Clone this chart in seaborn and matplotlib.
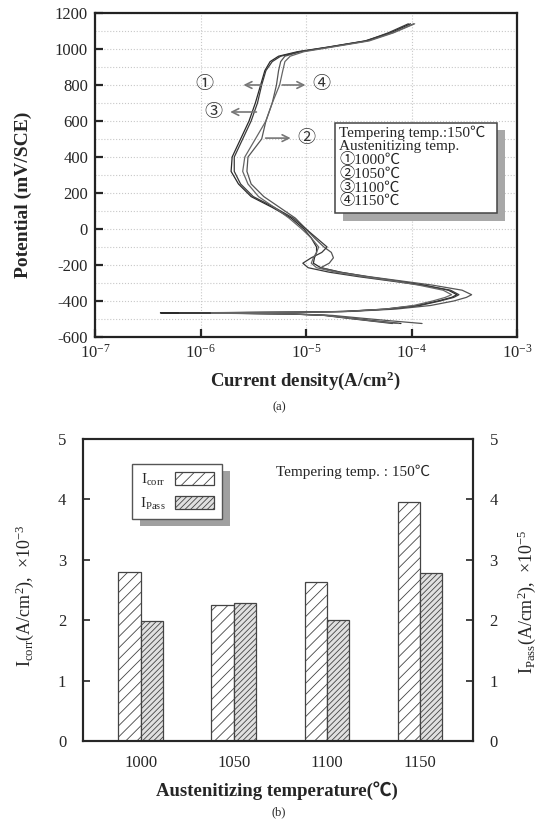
import numpy as np
import pandas as pd
import matplotlib.pyplot as plt
import matplotlib.patches as mpatches
from matplotlib.ticker import NullLocator, FixedLocator
import seaborn as sns

# ---- data: (a) potentiodynamic polarization curves ----
potential = [-525, -510, -495, -480, -472, -469, -466, -464, -462, -458, -445, -425,
             -400, -380, -365, -340, -312, -290, -265, -240, -215, -190, -160, -130,
             -100, -50, 0, 60, 120, 180, 250, 320, 400, 500, 600, 700, 800, 880,
             930, 960, 985, 1010, 1045, 1090, 1140]
# log10 of current density (A/cm2)
log_i_1000 = [-4.10, -4.35, -4.58, -4.80, -5.15, -5.65, -6.38, -5.65, -5.05, -4.65, -4.25, -3.95,
              -3.75, -3.62, -3.57, -3.65, -3.88, -4.12, -4.42, -4.67, -4.86, -4.93, -4.92, -4.90,
              -4.90, -4.95, -5.02, -5.14, -5.32, -5.52, -5.64, -5.71, -5.70, -5.62, -5.54, -5.48,
              -5.43, -5.39, -5.34, -5.26, -5.08, -4.80, -4.44, -4.20, -4.01]
log_i_1050 = [-3.90, -4.20, -4.48, -4.75, -5.10, -5.55, -6.05, -5.55, -5.00, -4.58, -4.15, -3.82,
              -3.60, -3.48, -3.43, -3.52, -3.80, -4.08, -4.40, -4.68, -4.86, -4.78, -4.74, -4.76,
              -4.83, -4.92, -5.00, -5.10, -5.25, -5.40, -5.52, -5.56, -5.55, -5.42, -5.38, -5.32,
              -5.28, -5.26, -5.24, -5.20, -5.05, -4.78, -4.42, -4.18, -3.98]
log_i_1100 = [-4.18, -4.40, -4.62, -4.83, -5.15, -5.60, -6.20, -5.60, -5.02, -4.62, -4.22, -3.92,
              -3.73, -3.60, -3.55, -3.63, -3.90, -4.18, -4.50, -4.78, -4.98, -5.03, -4.95, -4.85,
              -4.80, -4.90, -5.00, -5.12, -5.30, -5.50, -5.62, -5.68, -5.68, -5.60, -5.52, -5.46,
              -5.42, -5.38, -5.32, -5.24, -5.06, -4.79, -4.43, -4.22, -4.03]
log_i_1150 = [-4.12, -4.38, -4.60, -4.82, -5.12, -5.50, -5.90, -5.50, -4.98, -4.62, -4.25, -3.98,
              -3.80, -3.68, -3.62, -3.70, -3.93, -4.15, -4.45, -4.72, -4.90, -4.95, -4.93, -4.90,
              -4.88, -4.95, -5.04, -5.16, -5.30, -5.45, -5.55, -5.60, -5.58, -5.48, -5.38, -5.32,
              -5.25, -5.22, -5.20, -5.15, -5.02, -4.76, -4.40, -4.17, -3.97]
curve_colors = ["#2a2a2a", "#555555", "#3a3a3a", "#666666"]

x_ticks_a = [1e-7, 1e-6, 1e-5, 1e-4, 1e-3]
x_ticklabels_a = [r"$\mathregular{10^{-7}}$", r"$\mathregular{10^{-6}}$", r"$\mathregular{10^{-5}}$",
                  r"$\mathregular{10^{-4}}$", r"$\mathregular{10^{-3}}$"]
legend_lines_a = ["Tempering temp.:150℃", "Austenitizing temp.",
                  "①1000℃", "②1050℃", "③1100℃", "④1150℃"]

# ---- data: (b) Icorr / Ipass bars ----
aust_temps = ["1000", "1050", "1100", "1150"]
i_corr = [2.80, 2.25, 2.63, 3.95]   # x10^-3
i_pass = [1.98, 2.28, 2.00, 2.78]   # x10^-5

sns.set_style("ticks")
plt.rcParams['font.family'] = ['Liberation Serif', 'Noto Sans CJK KR', 'DejaVu Sans']
plt.rcParams['mathtext.fontset'] = 'custom'
plt.rcParams['mathtext.rm'] = 'Liberation Serif'
plt.rcParams['mathtext.it'] = 'Liberation Serif:italic'
plt.rcParams['mathtext.bf'] = 'Liberation Serif:bold'
plt.rcParams['axes.unicode_minus'] = False
plt.rcParams['hatch.linewidth'] = 0.6

W, H = 541, 822
fig = plt.figure(figsize=(W / 100, H / 100), dpi=100)


def fbox(x0, y0, x1, y1):
    """pixel box (top-left origin) -> figure fraction rect"""
    return [x0 / W, 1 - y1 / H, (x1 - x0) / W, (y1 - y0) / H]


# ================= (a) =================
ax1 = fig.add_axes(fbox(95, 13, 517, 337))
curves = [log_i_1000, log_i_1050, log_i_1100, log_i_1150]
for logs, col in zip(curves, curve_colors):
    sns.lineplot(x=10 ** np.array(logs), y=potential, sort=False, estimator=None,
                 color=col, lw=0.9, ax=ax1)
ax1.set_xscale('log')
ax1.set_xlim(1e-7, 1e-3)
ax1.set_ylim(-600, 1200)
ax1.set_xticks(x_ticks_a)
ax1.set_xticklabels(x_ticklabels_a)
ax1.xaxis.set_minor_locator(NullLocator())
ax1.set_yticks(range(-600, 1201, 200))
ax1.yaxis.set_minor_locator(FixedLocator(range(-500, 1200, 200)))
ax1.tick_params(which='major', direction='in', length=6, width=1.6, labelsize=12, pad=5)
ax1.tick_params(which='minor', length=0)
ax1.tick_params(axis='x', top=False)
ax1.grid(True, which='both', axis='y', ls=':', color='#c8c8c8', lw=0.8)
ax1.grid(True, which='major', axis='x', ls=':', color='#c8c8c8', lw=0.8)
for s in ax1.spines.values():
    s.set_linewidth(1.6)
    s.set_color('#222222')
ax1.set_ylabel("Potential (mV/SCE)", fontsize=14, fontweight='bold')
ax1.yaxis.set_label_coords(-0.15, 0.44)
ax1.set_xlabel(r"Current density(A/cm$^{\mathbf{2}}$)", fontsize=13.5, fontweight='bold')
ax1.xaxis.set_label_coords(0.5, -0.1)

# curve labels with arrows
arrow_kw = dict(arrowstyle='->', color='#777777', lw=1.2, mutation_scale=12)
labels_a = [("①", 1.1e-6, 800, 4.0e-6, 2.4e-6),
            ("③", 1.32e-6, 650, 3.6e-6, 1.8e-6),
            ("④", 1.4e-5, 800, 5.6e-6, 1.05e-5),
            ("②", 1.0e-5, 505, 3.9e-6, 7.6e-6)]
for lab, lx, ly, tail, head in labels_a:
    ax1.text(lx, ly, lab, ha='center', va='center', fontsize=13, color='#333333')
    ax1.annotate('', xy=(head, ly), xytext=(tail, ly), arrowprops=arrow_kw)

# legend box of (a)
fig.add_artist(mpatches.Rectangle((343 / W, 1 - 221 / H), 162 / W, 91 / H,
                                  transform=fig.transFigure, fc='#a8a8a8', ec='none', zorder=3))
fig.add_artist(mpatches.Rectangle((335 / W, 1 - 213 / H), 162 / W, 90 / H,
                                  transform=fig.transFigure, fc='white', ec='#444444', lw=1.1, zorder=4))
fig.text(339 / W, 1 - 126 / H, "\n".join(legend_lines_a), ha='left', va='top',
         fontsize=11, linespacing=0.98, zorder=5)

fig.text(279 / W, 1 - 407 / H, "(a)", ha='center', va='center', fontsize=9)

# ================= (b) =================
ax2 = fig.add_axes(fbox(83, 439, 473, 741))
df = pd.DataFrame({
    'temp': aust_temps * 2,
    'value': i_corr + i_pass,
    'series': ['Icorr'] * len(aust_temps) + ['Ipass'] * len(aust_temps),
})
sns.barplot(data=df, x='temp', y='value', hue='series', width=0.48, gap=0,
            palette=['white', '#e0e0e0'], edgecolor='#444444', linewidth=0.9,
            saturation=1, legend=False, ax=ax2)
hatches = ['///', '//////']
for cont, hh in zip(ax2.containers, hatches):
    for bar in cont:
        bar.set_hatch(hh)
ax2.set_xlim(-0.62, 3.57)
ax2.set_ylim(0, 5)
ax2.set_yticks(range(0, 6))
ax2.tick_params(axis='y', direction='in', length=5, width=1.2, labelsize=12, pad=12)
ax2.tick_params(axis='x', length=0, labelsize=12, pad=10)
for s in ax2.spines.values():
    s.set_linewidth(1.5)
    s.set_color('#222222')
ax2.set_xlabel("Austenitizing temperature(℃)", fontsize=13.5, fontweight='bold')
ax2.xaxis.set_label_coords(0.497, -0.135)
ax2.set_ylabel(r"I$_{\mathregular{corr}}$(A/cm$^{\mathregular{2}}$),  ×10$^{\mathregular{-3}}$",
               fontsize=13)
ax2.yaxis.set_label_coords(-0.12, 0.48)

ax2r = ax2.twinx()
ax2r.set_ylim(0, 5)
ax2r.set_yticks(range(0, 6))
ax2r.tick_params(axis='y', direction='in', length=5, width=1.2, labelsize=12, pad=12)
ax2r.set_ylabel(r"I$_{\mathregular{Pass}}$(A/cm$^{\mathregular{2}}$),  ×10$^{\mathregular{-5}}$",
                fontsize=13)
ax2r.yaxis.set_label_coords(1.11, 0.46)
for s in ax2r.spines.values():
    s.set_linewidth(1.5)

handles = [mpatches.Patch(fc='white', ec='#444444', hatch='///', lw=0.9),
           mpatches.Patch(fc='#e0e0e0', ec='#444444', hatch='//////', lw=0.9)]
leg = ax2r.legend(handles, [r"I$_{\mathregular{corr}}$", r"I$_{\mathregular{Pass}}$"],
                  loc='upper left', bbox_to_anchor=(0.126, 0.917), borderaxespad=0,
                  markerfirst=False, fancybox=False, framealpha=1, edgecolor='#555555',
                  fontsize=11, handlelength=2.6, handleheight=1.0, handletextpad=0.6,
                  borderpad=0.5, labelspacing=0.5)
leg.get_frame().set_linewidth(1.0)
leg.set_zorder(6)

# grey drop shadow behind the legend, placed from its drawn extent
fig.canvas.draw()
bb = leg.get_window_extent()
shadow = mpatches.Rectangle(((bb.x0 + 8) / W, (bb.y0 - 7) / H), bb.width / W, bb.height / H,
                            transform=fig.transFigure, fc='#a0a0a0', ec='none',
                            zorder=5, clip_on=False)
ax2r.add_patch(shadow)

ax2.text(353 / W, 1 - 472 / H, "Tempering temp. : 150℃", transform=fig.transFigure,
         ha='center', va='center', fontsize=11)

fig.text(279 / W, 1 - 812 / H, "(b)", ha='center', va='center', fontsize=9)

fig.savefig("out.png", dpi=100)
